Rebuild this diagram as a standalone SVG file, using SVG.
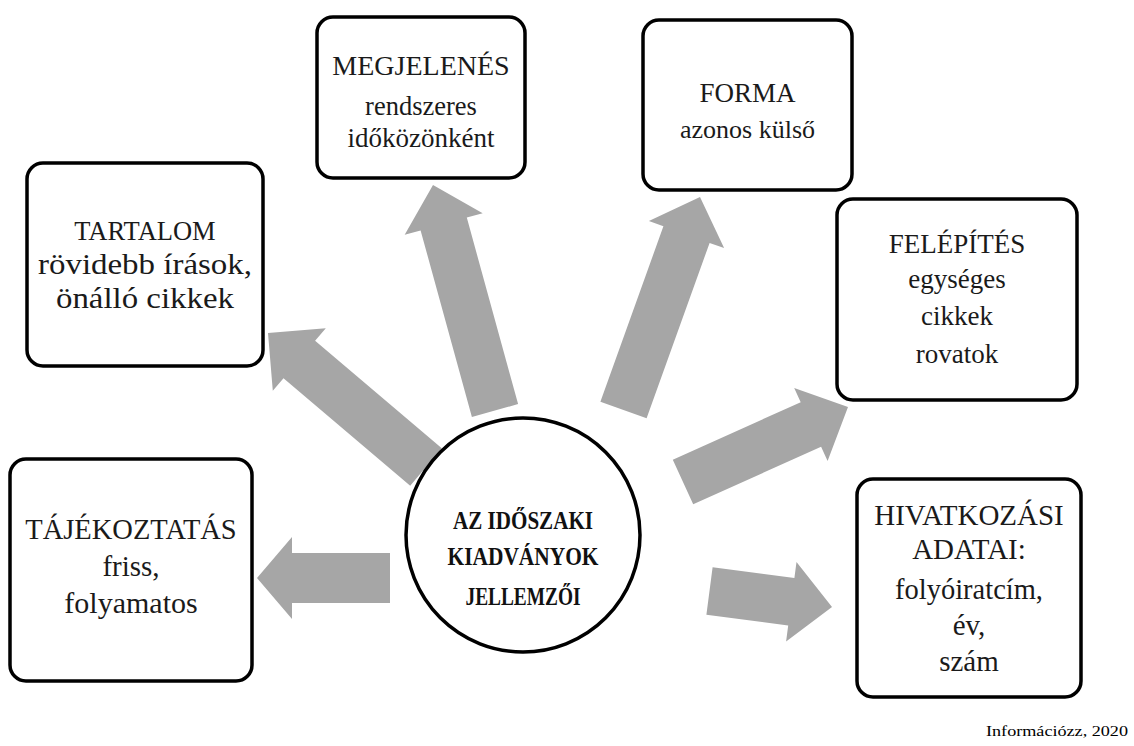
<svg xmlns="http://www.w3.org/2000/svg" width="1134" height="746" viewBox="0 0 1134 746">
  <style>
    .box { fill: #ffffff; stroke: #000000; stroke-width: 3.5; }
    .hub { fill: #ffffff; stroke: #000000; stroke-width: 3.5; }
    .arrow { fill: #a6a6a6; stroke: none; }
    .t { font-family: "Liberation Serif", "Times New Roman", serif; font-size: 27px; fill: #1a1a1a; text-anchor: middle; }
    .hubt { font-family: "Liberation Serif", "Times New Roman", serif; font-size: 26px; font-weight: bold; fill: #111111; text-anchor: middle; }
    .foot { font-family: "Liberation Serif", "Times New Roman", serif; font-size: 15.5px; fill: #000000; text-anchor: end; }
  </style>
  <rect width="1134" height="746" fill="#ffffff"/>

  <!-- block arrows radiating from the hub -->
  <g id="connectors">
    <polygon class="arrow" points="390,553 292,553 292,537 257,578 292,619 292,603 390,603"/>
    <polygon class="arrow" points="712.6,567.2 794.4,577.9 796.5,562 832,607 786.1,641.4 788.2,625.5 706.4,614.8"/>
    <polygon class="arrow" points="441.8,448.3 315.1,340.8 325.8,328.2 268,333 272.8,390.8 283.5,378.2 410.2,485.7"/>
    <polygon class="arrow" points="518.1,404.1 466.8,217.6 482.7,213.3 433,185 404.7,234.7 420.6,230.4 471.9,416.9"/>
    <polygon class="arrow" points="600.4,401.7 663.4,226.3 648.9,221.1 700,197 724.1,248.1 709.6,242.9 646.6,418.3"/>
    <polygon class="arrow" points="672.8,459.7 800.7,402.2 794.2,388.1 848,407 827.6,460.9 821.1,446.8 693.2,504.3"/>
  </g>

  <g id="hub">
    <circle class="hub" cx="523" cy="535" r="117"/>
    <text class="hubt" x="523" y="529" textLength="140" lengthAdjust="spacingAndGlyphs">AZ IDŐSZAKI</text>
    <text class="hubt" x="523" y="565" textLength="151" lengthAdjust="spacingAndGlyphs">KIADVÁNYOK</text>
    <text class="hubt" x="523" y="605" textLength="115" lengthAdjust="spacingAndGlyphs">JELLEMZŐI</text>
  </g>

  <g id="megjelenes">
    <rect class="box" x="317" y="17" width="208" height="161" rx="16"/>
    <text class="t" x="421" y="75" style="font-size:28px">MEGJELENÉS</text>
    <text class="t" x="421" y="115" style="font-size:26.5px">rendszeres</text>
    <text class="t" x="421" y="147">időközönként</text>
  </g>

  <g id="forma">
    <rect class="box" x="643" y="20" width="209" height="170" rx="16"/>
    <text class="t" x="747.5" y="102">FORMA</text>
    <text class="t" x="747.5" y="138" style="font-size:26px">azonos külső</text>
  </g>

  <g id="tartalom">
    <rect class="box" x="27" y="163" width="236" height="203" rx="16"/>
    <text class="t" x="145" y="240" style="font-size:26.5px">TARTALOM</text>
    <text class="t" x="145" y="274" style="font-size:29px" textLength="214" lengthAdjust="spacingAndGlyphs">rövidebb írások,</text>
    <text class="t" x="145" y="308" style="font-size:29px" textLength="178" lengthAdjust="spacingAndGlyphs">önálló cikkek</text>
  </g>

  <g id="felepites">
    <rect class="box" x="837" y="199" width="240" height="201" rx="16"/>
    <text class="t" x="957" y="253">FELÉPÍTÉS</text>
    <text class="t" x="957" y="288">egységes</text>
    <text class="t" x="957" y="325">cikkek</text>
    <text class="t" x="957" y="363">rovatok</text>
  </g>

  <g id="tajekoztatas">
    <rect class="box" x="10" y="459" width="242" height="222" rx="16"/>
    <text class="t" x="131" y="539" style="font-size:28.5px">TÁJÉKOZTATÁS</text>
    <text class="t" x="131" y="576" style="font-size:29px">friss,</text>
    <text class="t" x="131" y="613" style="font-size:30px">folyamatos</text>
  </g>

  <g id="hivatkozasi">
    <rect class="box" x="857" y="479" width="224" height="218" rx="16"/>
    <text class="t" x="969" y="525" style="font-size:29px">HIVATKOZÁSI</text>
    <text class="t" x="969" y="559" style="font-size:29px">ADATAI:</text>
    <text class="t" x="969" y="599" style="font-size:28.5px">folyóiratcím,</text>
    <text class="t" x="969" y="635" style="font-size:29px">év,</text>
    <text class="t" x="969" y="671" style="font-size:29px">szám</text>
  </g>

  <text class="foot" x="1128" y="736" textLength="142" lengthAdjust="spacingAndGlyphs">Információzz, 2020</text>
</svg>
